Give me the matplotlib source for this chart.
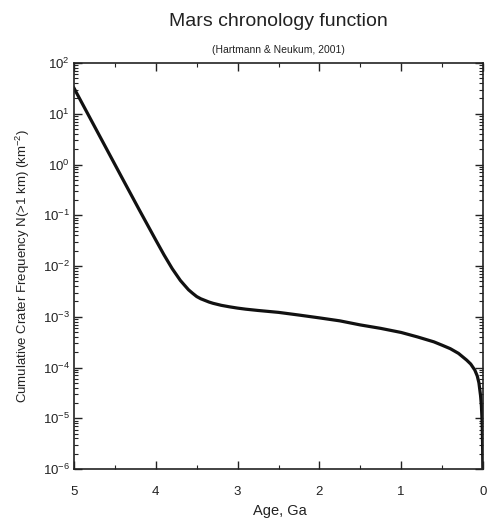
import matplotlib
matplotlib.use('Agg')
import matplotlib.pyplot as plt
from matplotlib.ticker import LogLocator, MultipleLocator, NullFormatter

# values
age = [5.0, 4.8, 4.6, 4.4, 4.2, 4.0, 3.9, 3.8, 3.75, 3.7, 3.65, 3.6, 3.55,
       3.5, 3.45, 3.4, 3.35, 3.3, 3.2, 3.1, 3.0, 2.9, 2.75, 2.5, 2.25, 2.0,
       1.75, 1.5, 1.25, 1.0, 0.8, 0.6, 0.5, 0.4, 0.3, 0.2, 0.15, 0.1, 0.07,
       0.05, 0.03, 0.02, 0.01, 0.005, 0.002]
n_craters = [32, 8.0, 2.0, 0.50, 0.126, 0.0324, 0.0166, 0.0089, 0.0068,
             0.0052, 0.0042, 0.0034, 0.0029, 0.0025, 0.00226, 0.0021,
             0.00195, 0.00184, 0.00168, 0.00157, 0.00148, 0.00141, 0.00133,
             0.00122, 0.00108, 0.00095, 0.00083, 0.00069, 0.00059, 0.00049,
             0.0004, 0.00032, 0.000275, 0.000235, 0.00019, 0.00014, 0.000117,
             8.9e-05, 6.8e-05, 5.0e-05, 2.8e-05, 1.8e-05, 8e-06, 3e-06, 1e-06]

plt.rcParams['font.family'] = 'Liberation Sans'
plt.rcParams['mathtext.fontset'] = 'custom'
plt.rcParams['mathtext.rm'] = 'Liberation Sans'
plt.rcParams['mathtext.it'] = 'Liberation Sans:italic'
plt.rcParams['mathtext.bf'] = 'Liberation Sans:bold'

txt = '#222222'
W, H = 488, 521
fig = plt.figure(figsize=(W / 100, H / 100), dpi=100)
ax = fig.add_axes([74 / W, (H - 469) / H, (483 - 74) / W, (469 - 63) / H])

ax.plot(age, n_craters, color='#111111', lw=2.3)
ax.set_yscale('log')
ax.set_xlim(5, 0)
ax.set_ylim(1e-6, 1e2)

ax.xaxis.set_major_locator(MultipleLocator(1))
ax.xaxis.set_minor_locator(MultipleLocator(0.5))
ax.yaxis.set_major_locator(LogLocator(base=10, numticks=20))
ax.yaxis.set_minor_locator(LogLocator(base=10, subs=range(2, 10), numticks=20))
ax.yaxis.set_minor_formatter(NullFormatter())
ax.tick_params(which='both', direction='in', top=True, right=True,
               colors='#222222', labelsize=9.5)
ax.tick_params(which='major', length=6, width=1)
ax.tick_params(which='minor', length=3, width=0.8)
ax.tick_params(axis='x', pad=12)
ax.tick_params(axis='y', pad=3)
for s in ax.spines.values():
    s.set_linewidth(1.2)
    s.set_color('#222222')

cx = (74 + 483) / 2 / W
fig.text(cx, 1 - 21 / H, 'Mars chronology function', ha='center', va='center',
         fontsize=14, color=txt)
fig.text(cx, 1 - 50 / H, '(Hartmann & Neukum, 2001)', ha='center', va='center',
         fontsize=7.5, color=txt)
fig.text(280 / W, 1 - 511 / H, 'Age, Ga', ha='center', va='center',
         fontsize=10.5, color=txt)
fig.text(23 / W, 1 - 266 / H, 'Cumulative Crater Frequency N(>1 km) (km$^{-2}$)',
         rotation=90, ha='center', va='center', fontsize=9.5, color=txt)

fig.savefig('out.png', dpi=100)
